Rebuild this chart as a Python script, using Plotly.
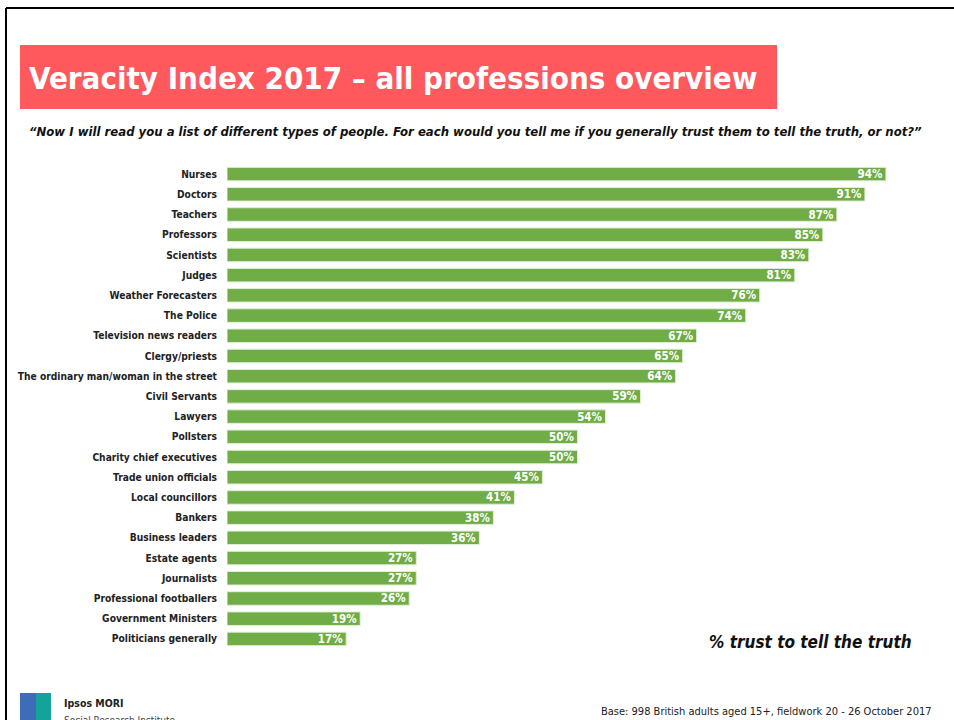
import plotly.graph_objects as go

professions = ["Nurses", "Doctors", "Teachers", "Professors", "Scientists", "Judges",
               "Weather Forecasters", "The Police", "Television news readers", "Clergy/priests",
               "The ordinary man/woman in the street", "Civil Servants", "Lawyers", "Pollsters",
               "Charity chief executives", "Trade union officials", "Local councillors", "Bankers",
               "Business leaders", "Estate agents", "Journalists", "Professional footballers",
               "Government Ministers", "Politicians generally"]
trust_pct = [94, 91, 87, 85, 83, 81, 76, 74, 67, 65, 64, 59, 54, 50, 50, 45, 41, 38, 36, 27, 27, 26, 19, 17]

W, H = 954, 720
NARROW = "DejaVu Sans Condensed, Liberation Sans, sans-serif"

def px(x):
    return x / W

def py(y):
    return 1 - y / H

fig = go.Figure(go.Bar(
    y=professions, x=trust_pct, orientation="h",
    marker=dict(color="#70AD47", line=dict(color="#e2efda", width=1)),
    text=[f"{v}%" for v in trust_pct], textposition="inside", insidetextanchor="end",
    constraintext="none",
    textfont=dict(family=NARROW, size=11.5, color="white", weight="bold"),
    cliponaxis=False, hoverinfo="skip",
))

fig.update_layout(
    width=W, height=H, margin=dict(l=0, r=0, t=0, b=0, autoexpand=False),
    paper_bgcolor="white", plot_bgcolor="white", showlegend=False,
    bargap=0.33,
    xaxis=dict(domain=[px(227), px(928)], range=[0, 100], visible=False, automargin=False),
    yaxis=dict(domain=[py(649), py(164)], autorange="reversed", showgrid=False, zeroline=False,
               showline=False, ticks="", ticklabelstandoff=9, automargin=False,
               tickfont=dict(family=NARROW, size=10.2, color="#222222", weight="bold")),
    shapes=[
        dict(type="line", xref="paper", yref="paper", x0=px(6), x1=1, y0=py(8), y1=py(8),
             line=dict(color="black", width=2)),
        dict(type="line", xref="paper", yref="paper", x0=px(6), x1=px(6), y0=py(8), y1=0,
             line=dict(color="black", width=2)),
        dict(type="rect", xref="paper", yref="paper", x0=px(20), x1=px(777), y0=py(45), y1=py(109),
             fillcolor="#FF585D", line=dict(width=0), layer="below"),
        dict(type="rect", xref="paper", yref="paper", x0=px(20), x1=px(36), y0=py(693), y1=0,
             fillcolor="#3F6CB6", line=dict(width=0)),
        dict(type="rect", xref="paper", yref="paper", x0=px(36), x1=px(51), y0=py(693), y1=0,
             fillcolor="#14A39A", line=dict(width=0)),
    ],
    annotations=[
        dict(text="Veracity Index 2017 – all professions overview", xref="paper", yref="paper",
             x=px(27), y=py(78), xanchor="left", yanchor="middle", showarrow=False,
             font=dict(family=NARROW, size=31, color="white", weight="bold")),
        dict(text="<i>\u201cNow I will read you a list of different types of people. For each would you tell me if you generally trust them to tell the truth, or not?\u201d</i>",
             xref="paper", yref="paper", x=px(27), y=py(131), xanchor="left", yanchor="middle",
             showarrow=False, font=dict(family=NARROW, size=13, color="#111111", weight="bold")),
        dict(text="<i>% trust to tell the truth</i>", xref="paper", yref="paper",
             x=px(914), y=py(642), xanchor="right", yanchor="middle", showarrow=False,
             font=dict(family=NARROW, size=17, color="#111111", weight="bold")),
        dict(text="Ipsos MORI", xref="paper", yref="paper", x=px(62), y=py(703),
             xanchor="left", yanchor="middle", showarrow=False,
             font=dict(family=NARROW, size=10.5, color="#222222", weight="bold")),
        dict(text="Social Research Institute", xref="paper", yref="paper", x=px(62), y=py(713),
             xanchor="left", yanchor="top", showarrow=False,
             font=dict(family=NARROW, size=10, color="#444444")),
        dict(text="Base: 998 British adults aged 15+, fieldwork 20 - 26 October 2017", xref="paper", yref="paper",
             x=px(934), y=py(711), xanchor="right", yanchor="middle", showarrow=False,
             font=dict(family=NARROW, size=11, color="#222222")),
    ],
)

fig.write_html("out.html")
